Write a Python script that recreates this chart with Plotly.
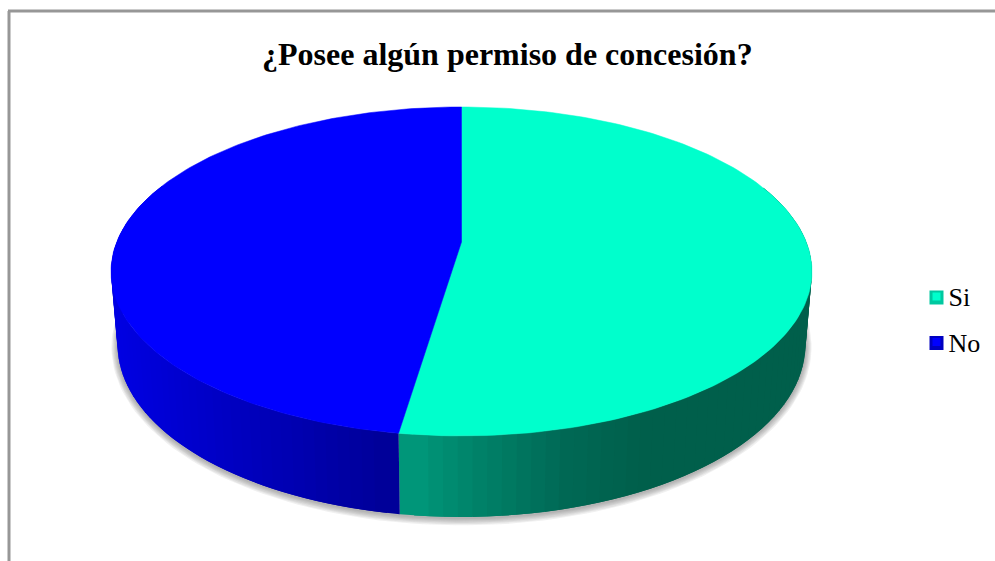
# -*- coding: utf-8 -*-
import numpy as np
import plotly.graph_objects as go

title = '¿Posee algún permiso de concesión?'
categories = ['Si', 'No']
values = [52.4, 47.6]

# colours of each slice: top face, swatch border, wall shading (x position, r, g, b)
topColors = ['#00FFCC', '#0000FF']
swatchColors = ['#00C8A0', '#0000C0']
wallStops = [
    ([400, 470, 560, 640, 820], [0, 0, 0, 0, 0], [155, 130, 105, 95, 95], [125, 105, 85, 75, 75]),
    ([110, 250, 400], [0, 0, 0], [0, 0, 0], [228, 190, 150]),
]

# perspective of the disc, in pixels of the page
centerX = 461.5
topDisc = dict(cy=242.0, a=344.8, b=159.2)
bottomDisc = dict(cy=314.0, a=338.4, b=166.7)
tilt = 0.179


def project(theta, disc):
    # theta runs clockwise from the back of the pie
    u = np.sin(theta)
    v = -np.cos(theta)
    w = 1 - tilt * v
    return centerX + disc['a'] * u / w, disc['cy'] + disc['b'] * v / w


fig = go.Figure()

# soft shadow under the pie
allAngles = np.linspace(0, 2 * np.pi, 240)
for grow in [6, 5, 4, 3, 2, 1]:
    sx, sy = project(allAngles, dict(cy=bottomDisc['cy'] + 1, a=bottomDisc['a'] + grow, b=bottomDisc['b'] + grow))
    fig.add_trace(go.Scatter(x=sx, y=sy, mode='lines', fill='toself', line=dict(width=0),
                             fillcolor='rgba(90,90,90,0.09)', hoverinfo='skip', showlegend=False))

edges = np.concatenate([[0], np.cumsum(values) / np.sum(values) * 2 * np.pi])

# walls, cut in thin overlapping strips to get the shading
for i in range(len(categories)):
    start = max(edges[i], 1.2)
    end = min(edges[i + 1], 5.1)
    steps = np.linspace(start, end, 60)
    if i == 0:
        # painted towards the split so that each strip ends on the slice border
        order = range(len(steps) - 1)
    else:
        order = range(len(steps) - 2, -1, -1)
    for j in order:
        if i == 0:
            part = np.linspace(steps[max(j - 1, 0)], steps[j + 1], 5)
        else:
            part = np.linspace(steps[j], steps[min(j + 2, len(steps) - 1)], 5)
        tx, ty = project(part, topDisc)
        bx, by = project(part, bottomDisc)
        midX = tx.mean()
        stops = wallStops[i]
        rgb = [int(np.interp(midX, stops[0], stops[k])) for k in (1, 2, 3)]
        color = 'rgb(%d,%d,%d)' % tuple(rgb)
        fig.add_trace(go.Scatter(x=np.concatenate([tx, bx[::-1]]), y=np.concatenate([ty, by[::-1]]),
                                 mode='lines', fill='toself', fillcolor=color,
                                 line=dict(width=0), hoverinfo='skip', showlegend=False))

# top faces
for i in range(len(categories)):
    part = np.linspace(edges[i], edges[i + 1], 160)
    px, py = project(part, topDisc)
    px = np.concatenate([[centerX], px, [centerX]])
    py = np.concatenate([[topDisc['cy']], py, [topDisc['cy']]])
    fig.add_trace(go.Scatter(x=px, y=py, mode='lines', fill='toself', fillcolor=topColors[i],
                             line=dict(color=topColors[i], width=0.5), name=categories[i],
                             hovertemplate='%{fullData.name}<extra></extra>', showlegend=False))

# legend
legendX = [936.5, 936.5]
legendY = [297.5, 343]
fig.add_trace(go.Scatter(x=legendX, y=legendY, mode='markers',
                         marker=dict(symbol='square', size=14, color=swatchColors), hoverinfo='skip', showlegend=False))
fig.add_trace(go.Scatter(x=legendX, y=[y - 1 for y in legendY], mode='markers',
                         marker=dict(symbol='square', size=8, color=topColors), hoverinfo='skip', showlegend=False))
fig.add_trace(go.Scatter(x=[948.5, 948.5], y=[y + 2 for y in legendY], mode='text', text=categories,
                         textposition='middle right', textfont=dict(family='Liberation Serif', size=26, color='black'),
                         hoverinfo='skip', showlegend=False))

fig.update_layout(
    width=995,
    height=561,
    margin=dict(l=0, r=0, t=0, b=0),
    paper_bgcolor='white',
    plot_bgcolor='white',
    showlegend=False,
    xaxis=dict(range=[0, 995], visible=False, fixedrange=True),
    yaxis=dict(range=[561, 0], visible=False, fixedrange=True),
    annotations=[dict(text='<b>%s</b>' % title, x=507.5, y=54, xref='x', yref='y', showarrow=False,
                      font=dict(family='Liberation Serif', size=32, color='black'))],
    shapes=[
        dict(type='line', x0=8, x1=995, y0=11, y1=11, xref='x', yref='y', line=dict(color='#979797', width=3)),
        dict(type='line', x0=9, x1=9, y0=11, y1=561, xref='x', yref='y', line=dict(color='#979797', width=3)),
    ],
)

# the page has a default body margin, take it away
fig.write_html('out.html', config=dict(displayModeBar=False), post_script="document.body.style.margin = '0';")
